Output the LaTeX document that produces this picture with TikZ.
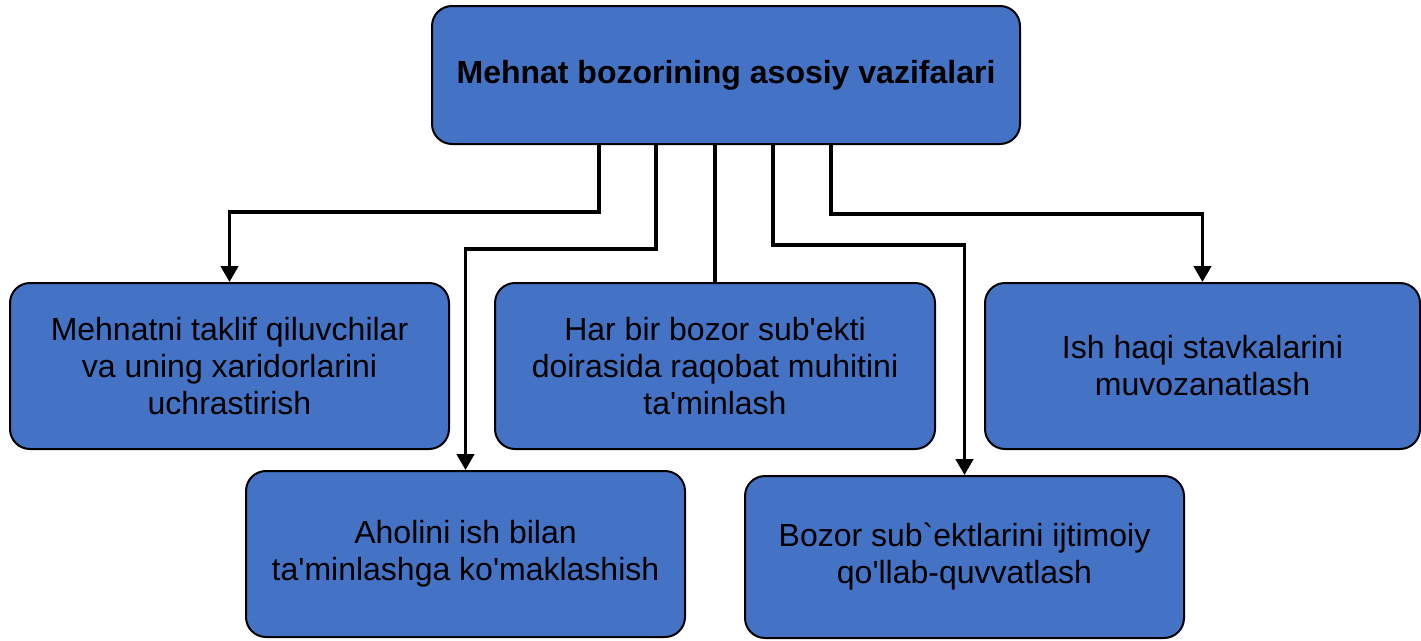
\documentclass[tikz,border=0pt]{standalone}
\usepackage{fontspec}
\setmainfont{Liberation Sans}
\usetikzlibrary{arrows.meta}
\definecolor{boxblue}{HTML}{4472C4}
\newcommand{\sq}{\textquotesingle}
\begin{document}
\begin{tikzpicture}[x=0.75pt,y=-0.75pt,
  box/.style={draw=black,line width=1.5pt,fill=boxblue,rounded corners=15pt,
    align=center,inner sep=0pt,font=\fontsize{24}{27.75}\selectfont,text=black},
  conn/.style={draw=black,line width=2.6pt},
  arr/.style={conn,-{Triangle[width=13pt,length=12pt]}}]
\useasboundingbox (0,0) rectangle (1421,640);
\node[box,minimum width=441pt,minimum height=103.5pt,font=\fontsize{24}{27.75}\selectfont\bfseries] (top) at (726,75) {Mehnat bozorining asosiy vazifalari};
\node[box,minimum width=329.25pt,minimum height=124.5pt] (A) at (229.5,366) {Mehnatni taklif qiluvchilar\\va uning xaridorlarini\\uchrastirish};
\node[box,minimum width=330pt,minimum height=124.5pt] (B) at (715,366) {Har bir bozor sub\sq ekti\\doirasida raqobat muhitini\\ta\sq minlash};
\node[box,minimum width=326.25pt,minimum height=124.5pt] (C) at (1202.5,366) {Ish haqi stavkalarini\\muvozanatlash};
\node[box,minimum width=329.25pt,minimum height=124.5pt] (D) at (465.5,554) {Aholini ish bilan\\ta\sq minlashga ko\sq maklashish};
\node[box,minimum width=329.25pt,minimum height=121.5pt] (E) at (964.5,557) {Bozor sub\textasciigrave ektlarini ijtimoiy\\qo\sq llab-quvvatlash};
\draw[arr] ([xshift=-95.25pt]top.south) -- ++(0,67) -| (A.north);
\draw[arr] ([xshift=-52.5pt]top.south) -- ++(0,104) -| (D.north);
\draw[conn] (top.south -| B.north) -- (B.north);
\draw[arr] ([xshift=35.25pt]top.south) -- ++(0,100) -| (E.north);
\draw[arr] ([xshift=78.75pt]top.south) -- ++(0,69) -| (C.north);
\end{tikzpicture}
\end{document}
